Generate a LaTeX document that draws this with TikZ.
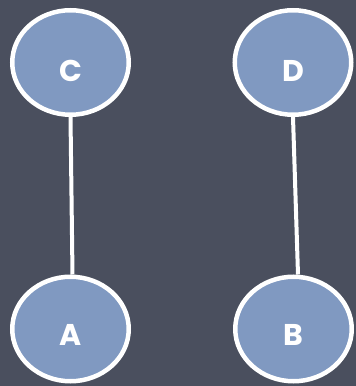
\documentclass[tikz,border=0pt]{standalone}
\usepackage{fontspec}
\setmainfont{Poppins}
\usetikzlibrary{shapes.geometric}
\definecolor{bgcol}{RGB}{74,79,94}
\definecolor{nodefill}{RGB}{128,153,193}
\begin{document}
\begin{tikzpicture}[x=1pt,y=1pt,
  vertex/.style={ellipse, draw=white, line width=4.5pt, fill=nodefill,
    minimum width=116.5pt, minimum height=104.5pt, inner sep=0pt},
  lbl/.style={text=white, font=\fontsize{30}{30}\selectfont\bfseries},
  edgeline/.style={draw=white, line width=4pt}]
\fill[bgcol] (0,0) rectangle (356,386);
\useasboundingbox (0,0) rectangle (356,386);
\node[vertex] (C) at (70.5,323.5) {};
\node[vertex] (D) at (293,323.5) {};
\node[vertex] (A) at (70.5,57) {};
\node[vertex] (B) at (293.5,57) {};
\node[lbl] (lC) at ([yshift=-8pt]C.center) {C};
\node[lbl] (lD) at ([yshift=-8pt]D.center) {D};
\node[lbl] (lA) at ([yshift=-6pt]A.center) {A};
\node[lbl] (lB) at ([yshift=-6pt]B.center) {B};
\draw[edgeline] (C.south) -- ([xshift=2pt]A.north);
\draw[edgeline] (D.south) -- ([xshift=4.5pt]B.north);
\end{tikzpicture}
\end{document}
